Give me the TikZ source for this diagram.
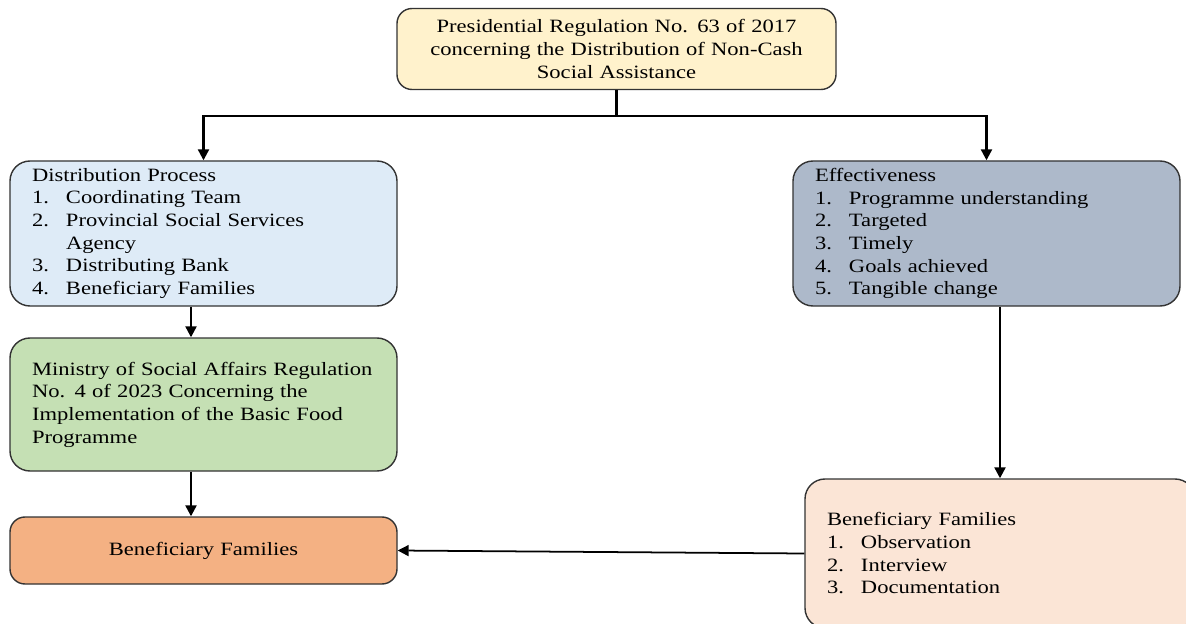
\documentclass[tikz,border=0pt]{standalone}
\usepackage{fontspec}
\setmainfont{Liberation Serif}[FakeStretch=1.2]
\usetikzlibrary{arrows.meta}

\definecolor{topfill}{HTML}{FFF2CC}
\definecolor{distfill}{HTML}{DEEBF7}
\definecolor{efffill}{HTML}{ADB9CA}
\definecolor{minfill}{HTML}{C5E0B4}
\definecolor{famfill}{HTML}{F4B183}
\definecolor{benfill}{HTML}{FBE5D6}

\newcommand{\listno}[1]{\makebox[0.68cm][l]{#1}}

\begin{document}
\begin{tikzpicture}[
    box/.style={draw=black!80, line width=0.8pt, rounded corners=0.4cm,
      inner xsep=0.44cm, inner ysep=0pt, font=\fontsize{10.7}{12.9}\selectfont},
    arr/.style={-{Triangle[length=2.2mm,width=2.2mm]}, line width=1.3pt}
  ]
  \useasboundingbox (0,0) rectangle (23.72,12.46);
  \clip (0,0) rectangle (23.72,12.46);

  % Regulation at the top
  \node[box, fill=topfill, rounded corners=0.3cm, text width=7.9cm, minimum height=1.62cm, align=center]
    (top) at (12.33,11.48)
    {Presidential Regulation No. 63 of 2017\\ concerning the Distribution of Non-Cash\\ Social Assistance};

  % Left column
  \node[box, fill=distfill, text width=6.86cm, minimum height=2.9cm, align=left]
    (dist) at (4.07,7.79)
    {Distribution Process\\
     \listno{1.}Coordinating Team\\
     \listno{2.}Provincial Social Services\\
     \hspace*{0.68cm}Agency\\
     \listno{3.}Distributing Bank\\
     \listno{4.}Beneficiary Families};
  \node[box, fill=minfill, text width=6.86cm, minimum height=2.66cm, align=left]
    (min) at (4.07,4.37)
    {Ministry of Social Affairs Regulation\\
     No. 4 of 2023 Concerning the\\
     Implementation of the Basic Food\\
     Programme};
  \node[box, fill=famfill, rounded corners=0.3cm, text width=6.86cm, minimum height=1.34cm, align=center]
    (fam) at (4.07,1.45) {Beneficiary Families};

  % Right column
  \node[box, fill=efffill, text width=6.86cm, minimum height=2.9cm, align=left]
    (eff) at (19.73,7.79)
    {Effectiveness\\
     \listno{1.}Programme understanding\\
     \listno{2.}Targeted\\
     \listno{3.}Timely\\
     \listno{4.}Goals achieved\\
     \listno{5.}Tangible change};
  \node[box, fill=benfill, text width=6.92cm, minimum height=2.98cm, align=left]
    (ben) at (20.0,1.39)
    {Beneficiary Families\\
     \listno{1.}Observation\\
     \listno{2.}Interview\\
     \listno{3.}Documentation};

  % Connectors
  \draw[arr] (top.south) -- ++(0,-0.52) -| (dist.north);
  \draw[arr] (top.south) -- ++(0,-0.52) -| (eff.north);
  \draw[arr] ([xshift=-0.25cm]dist.south) -- ([xshift=-0.25cm]min.north);
  \draw[arr] ([xshift=-0.25cm]min.south) -- ([xshift=-0.25cm]fam.north);
  \draw[arr] (eff.south -| ben.north) -- (ben.north);
  \draw[arr, line width=1pt] (ben.west) -- (fam.east);
\end{tikzpicture}
\end{document}
